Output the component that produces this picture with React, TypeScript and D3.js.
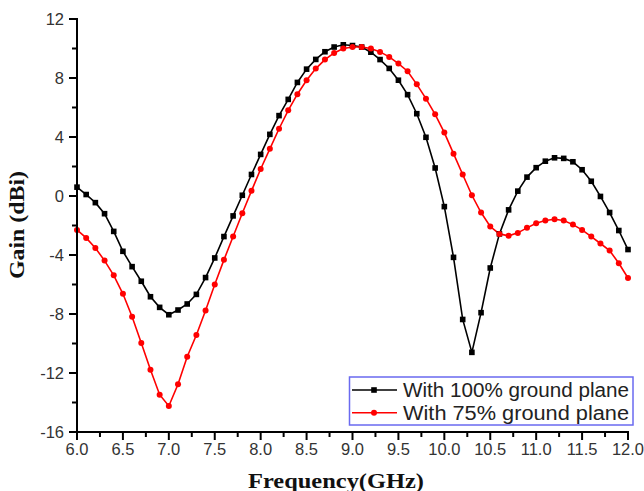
import React from "react";
import * as d3 from "d3";

// frequency grid in GHz, one sample every 0.1
const freqs = d3.range(0, 61).map((i) => +(6 + i * 0.1).toFixed(1));

const gainFull = [
  0.6, 0.1, -0.45, -1.2, -2.4, -3.75, -4.79, -5.78, -6.83, -7.55,
  -8.05, -7.73, -7.32, -6.67, -5.53, -4.2, -2.75, -1.35, 0.05, 1.46,
  2.82, 4.18, 5.45, 6.55, 7.7, 8.6, 9.26, 9.78, 10.1, 10.25,
  10.2, 10.1, 9.75, 9.25, 8.65, 7.85, 6.87, 5.58, 3.98, 1.9,
  -0.72, -4.16, -8.37, -10.6, -7.91, -4.88, -2.57, -0.94, 0.33, 1.28,
  1.92, 2.36, 2.59, 2.55, 2.32, 1.78, 1.0, -0.03, -1.12, -2.34,
  -3.63,
];

const gain75 = [
  -2.3, -2.84, -3.52, -4.38, -5.38, -6.63, -8.19, -9.96, -11.78, -13.47,
  -14.24, -12.76, -10.9, -9.42, -7.76, -6.0, -4.33, -2.75, -1.17, 0.35,
  1.83, 3.2, 4.56, 5.81, 6.9, 7.85, 8.64, 9.25, 9.7, 10.0,
  10.1, 10.1, 10.0, 9.77, 9.43, 8.98, 8.46, 7.57, 6.6, 5.54,
  4.3, 2.87, 1.46, 0.05, -1.12, -2.07, -2.57, -2.7, -2.5, -2.16,
  -1.85, -1.66, -1.58, -1.66, -1.94, -2.3, -2.75, -3.22, -3.7, -4.56,
  -5.56,
];

const seriesNames = ["With 100% ground plane", "With 75% ground plane"];
const xMajor = d3.range(6, 12.01, 0.5);
const xMinor = d3.range(6.25, 12, 0.5);
const yMajor = d3.range(-16, 12.01, 4);
const yMinor = d3.range(-14, 12, 4);

export default function App() {
  const width = 644, height = 491;
  const left = 77, right = 628, top = 19, bottom = 432;

  const x = d3.scaleLinear().domain([6, 12]).range([left, right]);
  const y = d3.scaleLinear().domain([-16, 12]).range([bottom, top]);

  const line = d3.line<number>()
    .x((d, i) => x(freqs[i]))
    .y((d) => y(d));

  const tickFont = "'Liberation Sans', Arial, sans-serif";
  const titleFont = "'Liberation Serif', 'Times New Roman', serif";

  return (
    <svg width={width} height={height}
      style={{ position: "absolute", left: 0, top: 0, background: "#fff" }}>
      {/* curves */}
      <path d={line(gainFull) || ""} fill="none" stroke="#000" strokeWidth={1.6} />
      <path d={line(gain75) || ""} fill="none" stroke="#ff0000" strokeWidth={1.6} />
      {gainFull.map((g, i) => (
        <rect key={"b" + i} x={x(freqs[i]) - 2.8} y={y(g) - 2.8} width={5.6} height={5.6} fill="#000" />
      ))}
      {gain75.map((g, i) => (
        <circle key={"r" + i} cx={x(freqs[i])} cy={y(g)} r={3} fill="#ff0000" />
      ))}

      {/* axes */}
      <line x1={left} x2={left} y1={top - 1} y2={bottom + 1} stroke="#000" strokeWidth={2} />
      <line x1={left - 1} x2={right + 1} y1={bottom} y2={bottom} stroke="#000" strokeWidth={2} />
      {xMajor.map((v) => (
        <g key={"xt" + v}>
          <line x1={x(v)} x2={x(v)} y1={bottom} y2={bottom + 8} stroke="#000" strokeWidth={2} />
          <text x={x(v)} y={455} textAnchor="middle" fontFamily={tickFont} fontSize={16.5} fill="#333">
            {v.toFixed(1)}
          </text>
        </g>
      ))}
      {xMinor.map((v) => (
        <line key={"xm" + v} x1={x(v)} x2={x(v)} y1={bottom} y2={bottom + 5} stroke="#000" strokeWidth={2} />
      ))}
      {yMajor.map((v) => (
        <g key={"yt" + v}>
          <line x1={left - 8} x2={left} y1={y(v)} y2={y(v)} stroke="#000" strokeWidth={2} />
          <text x={64} y={y(v) + 6} textAnchor="end" fontFamily={tickFont} fontSize={16.5} fill="#333">
            {v}
          </text>
        </g>
      ))}
      {yMinor.map((v) => (
        <line key={"ym" + v} x1={left - 5} x2={left} y1={y(v)} y2={y(v)} stroke="#000" strokeWidth={2} />
      ))}

      {/* axis titles */}
      <text x={336} y={488} textAnchor="middle" fontFamily={titleFont} fontWeight="bold"
        fontSize={20} textLength={176} lengthAdjust="spacingAndGlyphs" fill="#111">
        Frequency(GHz)
      </text>
      <text transform="translate(24,225) rotate(-90)" textAnchor="middle" fontFamily={titleFont}
        fontWeight="bold" fontSize={20} textLength={108} lengthAdjust="spacingAndGlyphs" fill="#111">
        Gain (dBi)
      </text>

      {/* legend */}
      <rect x={349.5} y={377} width={283.5} height={48} fill="#fff" stroke="#6a6af0" strokeWidth={1.5} />
      {seriesNames.map((name, i) => {
        const cy = 390 + i * 22.7;
        const col = i === 0 ? "#000" : "#ff0000";
        return (
          <g key={name}>
            <line x1={352} x2={397} y1={cy} y2={cy} stroke={col} strokeWidth={1.6} />
            {i === 0
              ? <rect x={371.2} y={cy - 2.8} width={5.6} height={5.6} fill={col} />
              : <circle cx={374} cy={cy} r={3} fill={col} />}
            <text x={403} y={cy + 7} fontFamily={tickFont} fontSize={19.5} fill="#222"
              textLength={226} lengthAdjust="spacingAndGlyphs">
              {name}
            </text>
          </g>
        );
      })}
    </svg>
  );
}
